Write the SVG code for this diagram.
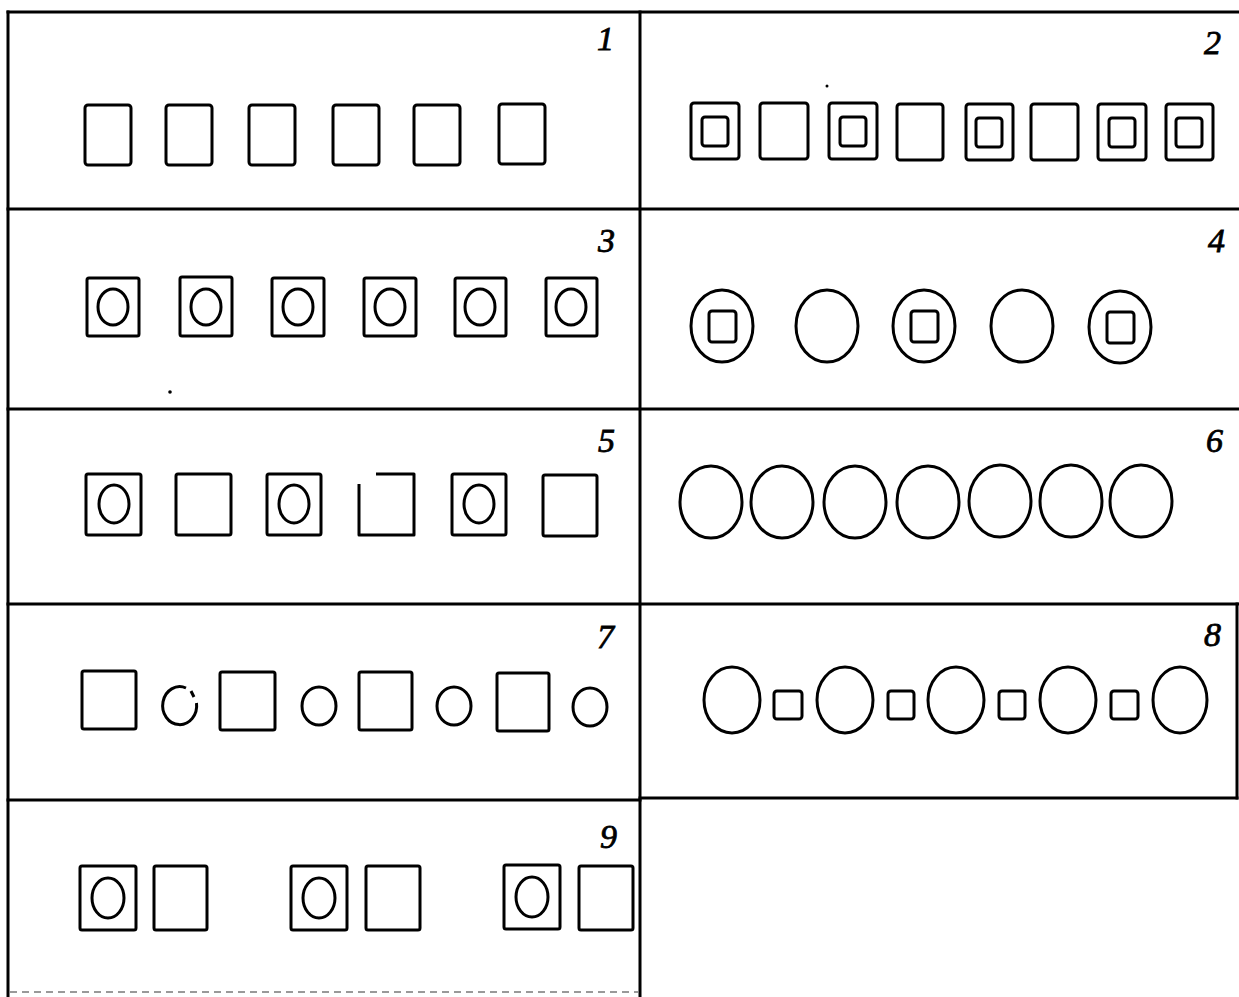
<svg xmlns="http://www.w3.org/2000/svg" width="1239" height="997" viewBox="0 0 1239 997">
<style>
.g{stroke:#000;stroke-width:3;fill:none;stroke-linecap:square}
.s{stroke:#000;stroke-width:3;fill:none;stroke-linejoin:round}
.n{font-family:"Liberation Serif","DejaVu Serif",serif;font-style:italic;font-size:34px;fill:#000;stroke:#000;stroke-width:0.8}
</style>
<rect width="1239" height="997" fill="#fff"/>
<g id="grid">
<line class="g" x1="8" y1="12" x2="1239" y2="12"/>
<line class="g" x1="8" y1="12" x2="8" y2="997"/>
<line class="g" x1="640" y1="12" x2="640" y2="997"/>
<line class="g" x1="8" y1="209" x2="1239" y2="209"/>
<line class="g" x1="8" y1="409" x2="1239" y2="409"/>
<line class="g" x1="8" y1="604" x2="1239" y2="604"/>
<line class="g" x1="8" y1="800" x2="640" y2="800"/>
<line class="g" x1="640" y1="798" x2="1237" y2="798"/>
<line class="g" x1="1237" y1="604" x2="1237" y2="798"/>
<line x1="10" y1="992" x2="638" y2="992" stroke="#999" stroke-width="2" stroke-dasharray="7 5"/>
</g>
<g id="connectors"></g>
<g id="panel1">
<text class="n" x="597" y="50">1</text>
<rect class="s" x="85" y="105" width="46" height="60" rx="3"/>
<rect class="s" x="166" y="105" width="46" height="60" rx="3"/>
<rect class="s" x="249" y="105" width="46" height="60" rx="3"/>
<rect class="s" x="333" y="105" width="46" height="60" rx="3"/>
<rect class="s" x="414" y="105" width="46" height="60" rx="3"/>
<rect class="s" x="499" y="104" width="46" height="60" rx="3"/>
</g>
<g id="panel2">
<text class="n" x="1204" y="54">2</text>
<circle cx="827" cy="86" r="1.5" fill="#000"/>
<rect class="s" x="691" y="103" width="48" height="56" rx="3"/>
<rect class="s" x="702" y="117" width="26" height="29" rx="3"/>
<rect class="s" x="760" y="103" width="48" height="56" rx="3"/>
<rect class="s" x="829" y="103" width="48" height="56" rx="3"/>
<rect class="s" x="840" y="117" width="26" height="29" rx="3"/>
<rect class="s" x="897" y="104" width="46" height="56" rx="3"/>
<rect class="s" x="966" y="104" width="47" height="56" rx="3"/>
<rect class="s" x="976" y="118" width="26" height="29" rx="3"/>
<rect class="s" x="1031" y="104" width="47" height="56" rx="3"/>
<rect class="s" x="1098" y="104" width="48" height="56" rx="3"/>
<rect class="s" x="1109" y="118" width="26" height="29" rx="3"/>
<rect class="s" x="1166" y="104" width="47" height="56" rx="3"/>
<rect class="s" x="1176" y="118" width="26" height="29" rx="3"/>
</g>
<g id="panel3">
<text class="n" x="598" y="252">3</text>
<circle cx="170" cy="392" r="1.8" fill="#000"/>
<rect class="s" x="87" y="278" width="52" height="58" rx="2"/>
<ellipse class="s" cx="113" cy="307" rx="15" ry="18"/>
<rect class="s" x="180" y="277" width="52" height="59" rx="2"/>
<ellipse class="s" cx="206" cy="307" rx="15" ry="18"/>
<rect class="s" x="272" y="278" width="52" height="58" rx="2"/>
<ellipse class="s" cx="298" cy="307" rx="15" ry="18"/>
<rect class="s" x="364" y="278" width="52" height="58" rx="2"/>
<ellipse class="s" cx="390" cy="307" rx="15" ry="18"/>
<rect class="s" x="455" y="278" width="51" height="58" rx="2"/>
<ellipse class="s" cx="480" cy="307" rx="15" ry="18"/>
<rect class="s" x="546" y="278" width="51" height="58" rx="2"/>
<ellipse class="s" cx="571" cy="307" rx="15" ry="18"/>
</g>
<g id="panel4">
<text class="n" x="1208" y="252">4</text>
<ellipse class="s" cx="722" cy="326" rx="31" ry="36"/>
<rect class="s" x="709" y="311" width="27" height="31" rx="3"/>
<ellipse class="s" cx="827" cy="326" rx="31" ry="36"/>
<ellipse class="s" cx="924" cy="326" rx="31" ry="36"/>
<rect class="s" x="911" y="311" width="27" height="31" rx="3"/>
<ellipse class="s" cx="1022" cy="326" rx="31" ry="36"/>
<ellipse class="s" cx="1120" cy="327" rx="31" ry="36"/>
<rect class="s" x="1107" y="312" width="27" height="31" rx="3"/>
</g>
<g id="panel5">
<text class="n" x="598" y="452">5</text>
<rect class="s" x="86" y="474" width="55" height="61" rx="2"/>
<ellipse class="s" cx="114" cy="504" rx="15" ry="19"/>
<rect class="s" x="176" y="474" width="55" height="61" rx="2"/>
<rect class="s" x="267" y="474" width="54" height="61" rx="2"/>
<ellipse class="s" cx="294" cy="504" rx="15" ry="19"/>
<path class="s" d="M359 484 L359 535 L414 535 L414 474 L376 474"/>
<rect class="s" x="452" y="474" width="54" height="61" rx="2"/>
<ellipse class="s" cx="479" cy="504" rx="15" ry="19"/>
<rect class="s" x="543" y="475" width="54" height="61" rx="2"/>
</g>
<g id="panel6">
<text class="n" x="1206" y="452">6</text>
<ellipse class="s" cx="711" cy="502" rx="31" ry="36"/>
<ellipse class="s" cx="782" cy="502" rx="31" ry="36"/>
<ellipse class="s" cx="855" cy="502" rx="31" ry="36"/>
<ellipse class="s" cx="928" cy="502" rx="31" ry="36"/>
<ellipse class="s" cx="1000" cy="501" rx="31" ry="36"/>
<ellipse class="s" cx="1071" cy="501" rx="31" ry="36"/>
<ellipse class="s" cx="1141" cy="501" rx="31" ry="36"/>
</g>
<g id="panel7">
<text class="n" x="597" y="648">7</text>
<rect class="s" x="82" y="671" width="54" height="58" rx="2"/>
<path class="s" d="M196.5 703 A17 19 0 1 1 186 688"/>
<line class="s" x1="191" y1="691" x2="194" y2="697"/>
<rect class="s" x="220" y="672" width="55" height="58" rx="2"/>
<ellipse class="s" cx="319" cy="706" rx="17" ry="19"/>
<rect class="s" x="359" y="672" width="53" height="58" rx="2"/>
<ellipse class="s" cx="454" cy="706" rx="17" ry="19"/>
<rect class="s" x="497" y="673" width="52" height="58" rx="2"/>
<ellipse class="s" cx="590" cy="707" rx="17" ry="19"/>
</g>
<g id="panel8">
<text class="n" x="1204" y="646">8</text>
<ellipse class="s" cx="732" cy="700" rx="28" ry="33"/>
<rect class="s" x="774" y="691" width="28" height="28" rx="3"/>
<ellipse class="s" cx="845" cy="700" rx="28" ry="33"/>
<rect class="s" x="888" y="691" width="26" height="28" rx="3"/>
<ellipse class="s" cx="956" cy="700" rx="28" ry="33"/>
<rect class="s" x="999" y="691" width="26" height="28" rx="3"/>
<ellipse class="s" cx="1068" cy="700" rx="28" ry="33"/>
<rect class="s" x="1111" y="691" width="27" height="28" rx="3"/>
<ellipse class="s" cx="1180" cy="700" rx="27" ry="33"/>
</g>
<g id="panel9">
<text class="n" x="600" y="848">9</text>
<rect class="s" x="80" y="866" width="56" height="64" rx="2"/>
<ellipse class="s" cx="108" cy="898" rx="16" ry="20"/>
<rect class="s" x="154" y="866" width="53" height="64" rx="2"/>
<rect class="s" x="291" y="866" width="56" height="64" rx="2"/>
<ellipse class="s" cx="319" cy="898" rx="16" ry="20"/>
<rect class="s" x="366" y="866" width="54" height="64" rx="2"/>
<rect class="s" x="504" y="865" width="56" height="64" rx="2"/>
<ellipse class="s" cx="532" cy="897" rx="16" ry="20"/>
<rect class="s" x="579" y="866" width="54" height="64" rx="2"/>
</g>
</svg>
